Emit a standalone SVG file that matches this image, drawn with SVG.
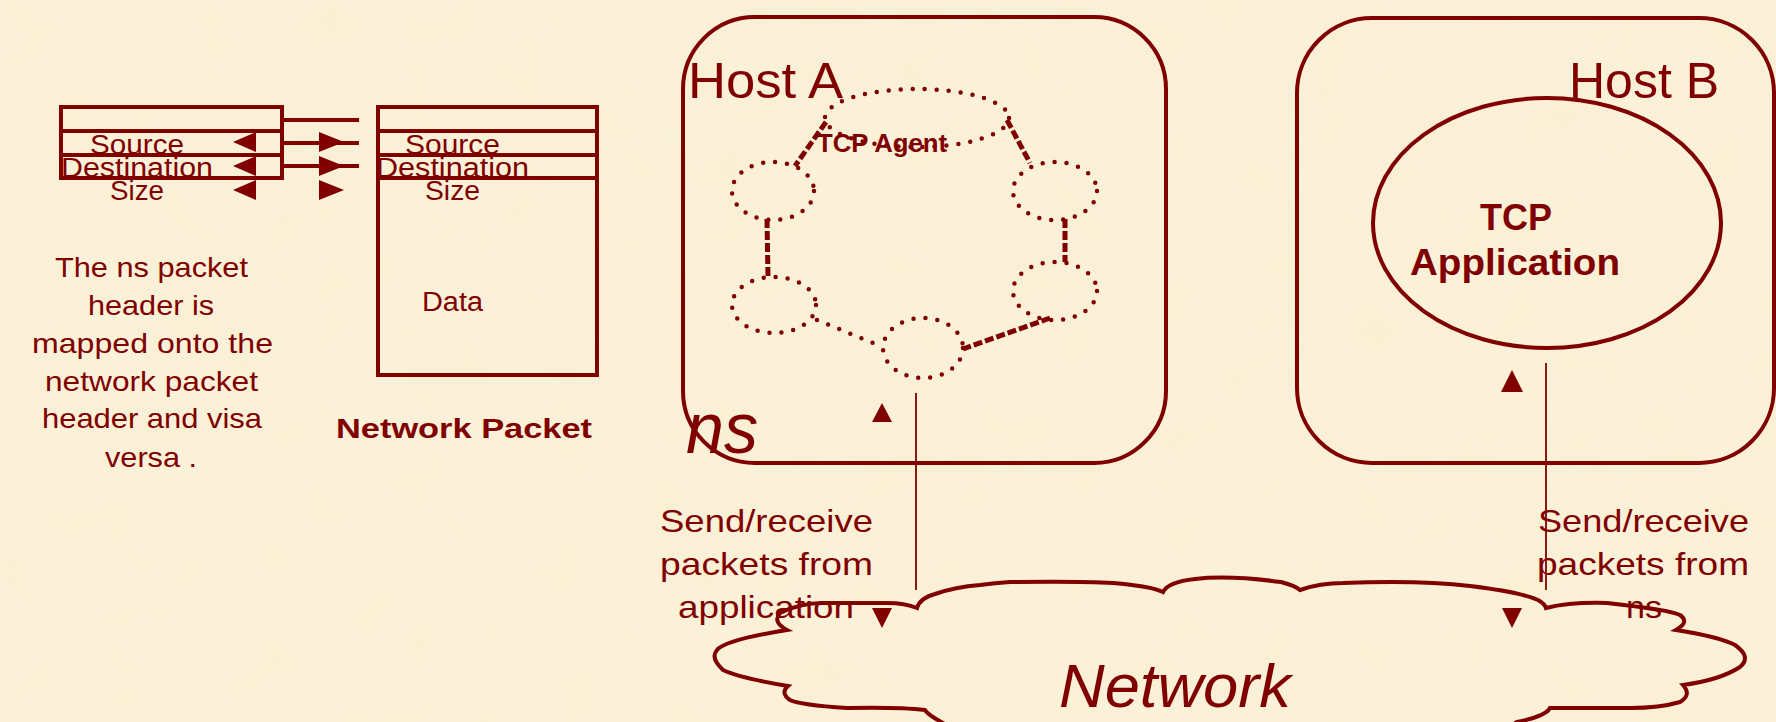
<svg xmlns="http://www.w3.org/2000/svg" width="1776" height="722" viewBox="0 0 1776 722">
<defs>
<filter id="paper" x="0" y="0" width="100%" height="100%">
<feTurbulence type="fractalNoise" baseFrequency="0.02" numOctaves="3" seed="4" result="n"/>
<feColorMatrix in="n" type="matrix" values="0 0 0 0 0.98  0 0 0 0 0.93  0 0 0 0 0.80  0 0 0 0.35 0"/>
</filter>
<style>
.ln{stroke:#800000;stroke-width:4;fill:none}
.thin{stroke:#800000;stroke-width:1.8;fill:none}
.tri{fill:#800000}
.dot{stroke:#800000;stroke-width:4.5;fill:none;stroke-linecap:round;stroke-dasharray:0 12}
.dash{stroke:#800000;stroke-width:5;fill:none;stroke-dasharray:9 3}
.t{font-family:"Liberation Sans",Arial,sans-serif;fill:#800000}
.b{font-weight:bold}
.i{font-style:italic}
</style>
</defs>
<rect x="0" y="0" width="1776" height="722" fill="#FAEFD4"/>
<rect x="0" y="0" width="1776" height="722" filter="url(#paper)"/>

<g id="ns-header">
<rect class="ln" x="61" y="107" width="221" height="71"/>
<line class="ln" x1="61" y1="131" x2="282" y2="131"/>
<line class="ln" x1="61" y1="155" x2="282" y2="155"/>
<text class="t" x="90" y="154" font-size="27" textLength="94" lengthAdjust="spacingAndGlyphs">Source</text>
<text class="t" x="61" y="177" font-size="27" textLength="152" lengthAdjust="spacingAndGlyphs">Destination</text>
<text class="t" x="110" y="200" font-size="27" textLength="54" lengthAdjust="spacingAndGlyphs">Size</text>
<polygon class="tri" points="233,142 256,132 256,152"/>
<polygon class="tri" points="233,166 256,156 256,176"/>
<polygon class="tri" points="233,190 256,180 256,200"/>
</g>

<g id="network-packet">
<rect class="ln" x="378" y="107" width="219" height="268"/>
<line class="ln" x1="378" y1="131" x2="597" y2="131"/>
<line class="ln" x1="378" y1="155" x2="597" y2="155"/>
<line class="ln" x1="378" y1="178" x2="597" y2="178"/>
<text class="t" x="405" y="154" font-size="27" textLength="95" lengthAdjust="spacingAndGlyphs">Source</text>
<text class="t" x="376" y="177" font-size="27" textLength="153" lengthAdjust="spacingAndGlyphs">Destination</text>
<text class="t" x="425" y="200" font-size="27" textLength="55" lengthAdjust="spacingAndGlyphs">Size</text>
<text class="t" x="422" y="311" font-size="27" textLength="61" lengthAdjust="spacingAndGlyphs">Data</text>
<text class="t b" x="336" y="438" font-size="27" textLength="256" lengthAdjust="spacingAndGlyphs">Network Packet</text>
</g>

<g id="mapping-note">
<text class="t" x="55" y="277" font-size="28" textLength="193" lengthAdjust="spacingAndGlyphs">The ns packet</text>
<text class="t" x="88" y="315" font-size="28" textLength="126" lengthAdjust="spacingAndGlyphs">header is</text>
<text class="t" x="32" y="353" font-size="28" textLength="241" lengthAdjust="spacingAndGlyphs">mapped onto the</text>
<text class="t" x="45" y="391" font-size="28" textLength="213" lengthAdjust="spacingAndGlyphs">network packet</text>
<text class="t" x="42" y="428" font-size="28" textLength="220" lengthAdjust="spacingAndGlyphs">header and visa</text>
<text class="t" x="105" y="467" font-size="28" textLength="92" lengthAdjust="spacingAndGlyphs">versa .</text>
</g>

<g id="host-a">
<rect class="ln" x="683" y="17" width="483" height="446" rx="72" ry="72"/>
<text class="t" x="688" y="98" font-size="50" textLength="155" lengthAdjust="spacingAndGlyphs">Host A</text>
<text class="t i" x="686" y="453" font-size="72" textLength="72" lengthAdjust="spacingAndGlyphs">ns</text>
</g>

<g id="tcp-agent">
<ellipse class="dot" cx="917" cy="118" rx="92" ry="29"/>
<ellipse class="dot" cx="773" cy="191" rx="41" ry="29"/>
<ellipse class="dot" cx="1055" cy="191" rx="42" ry="29"/>
<ellipse class="dot" cx="774" cy="305" rx="42" ry="28"/>
<ellipse class="dot" cx="1055" cy="291" rx="42" ry="29"/>
<ellipse class="dot" cx="923" cy="348" rx="40" ry="30"/>
<text class="t b" x="817" y="152" font-size="25" textLength="130" lengthAdjust="spacingAndGlyphs">TCP Agent</text>
</g>

<g id="host-b">
<rect class="ln" x="1297" y="18" width="477" height="445" rx="75" ry="75"/>
<text class="t" x="1569" y="98" font-size="50" textLength="150" lengthAdjust="spacingAndGlyphs">Host B</text>
</g>

<g id="tcp-application">
<ellipse class="ln" cx="1547" cy="223" rx="174" ry="125"/>
<text class="t b" x="1480" y="230" font-size="36" textLength="72" lengthAdjust="spacingAndGlyphs">TCP</text>
<text class="t b" x="1410" y="275" font-size="36" textLength="210" lengthAdjust="spacingAndGlyphs">Application</text>
</g>

<g id="network">
<path class="ln" d="M917,608 Q920,598 935,594 Q955,587 980,585 Q995,583 1010,582 Q1080,581 1113,583 Q1150,586 1163,592 Q1168,582 1195,579 Q1228,575 1281,582 Q1296,586 1300,590 Q1320,583 1343,583 Q1420,580 1470,586 Q1520,592 1538,600 Q1545,604 1546,608 Q1570,602 1607,603 Q1670,610 1680,615 Q1690,622 1676,630 Q1720,637 1735,645 Q1752,657 1740,667 Q1720,680 1683,685 Q1692,695 1680,702 Q1660,708 1630,708 L1550,708 Q1546,716 1517,722 L1500,732 L960,732 Q928,716 925,710 Q900,707 847,708 Q800,705 790,700 Q780,693 788,686 Q740,678 723,670 Q710,658 717,650 Q725,640 787,630 Q772,622 780,613 Q800,603 823,603 L887,603 Q905,603 917,608 Z"/>
<text class="t i" x="1059" y="707" font-size="62" textLength="232" lengthAdjust="spacingAndGlyphs">Network</text>
</g>

<g id="connectors">
<line class="ln" x1="282" y1="120" x2="359" y2="120"/>
<line class="ln" x1="282" y1="143" x2="359" y2="143"/>
<line class="ln" x1="282" y1="166" x2="359" y2="166"/>
<polygon class="tri" points="344,142 319,132 319,152"/>
<polygon class="tri" points="344,166 319,156 319,176"/>
<polygon class="tri" points="344,190 319,180 319,200"/>
<line class="dash" x1="826" y1="122" x2="795" y2="166"/>
<line class="dash" x1="1007" y1="120" x2="1030" y2="163"/>
<line class="dash" x1="767" y1="219" x2="768" y2="277"/>
<line class="dash" x1="1065" y1="219" x2="1065" y2="262"/>
<line class="dash" x1="1050" y1="318" x2="963" y2="349"/>
<line class="dot" x1="817" y1="320" x2="883" y2="347"/>
<line class="thin" x1="916" y1="393" x2="916" y2="590"/>
<polygon class="tri" points="882,403 872,422 892,422"/>
<polygon class="tri" points="872,608 892,608 882,628"/>
<line class="thin" x1="1546" y1="363" x2="1546" y2="590"/>
<polygon class="tri" points="1512,370 1501,392 1523,392"/>
<polygon class="tri" points="1502,608 1522,608 1512,628"/>
<text class="t" x="660" y="532" font-size="32" textLength="213" lengthAdjust="spacingAndGlyphs">Send/receive</text>
<text class="t" x="660" y="575" font-size="32" textLength="213" lengthAdjust="spacingAndGlyphs">packets from</text>
<text class="t" x="678" y="618" font-size="32" textLength="176" lengthAdjust="spacingAndGlyphs">application</text>
<text class="t" x="1538" y="532" font-size="32" textLength="211" lengthAdjust="spacingAndGlyphs">Send/receive</text>
<text class="t" x="1537" y="575" font-size="32" textLength="212" lengthAdjust="spacingAndGlyphs">packets from</text>
<text class="t" x="1626" y="618" font-size="32" textLength="36" lengthAdjust="spacingAndGlyphs">ns</text>
</g>
</svg>
